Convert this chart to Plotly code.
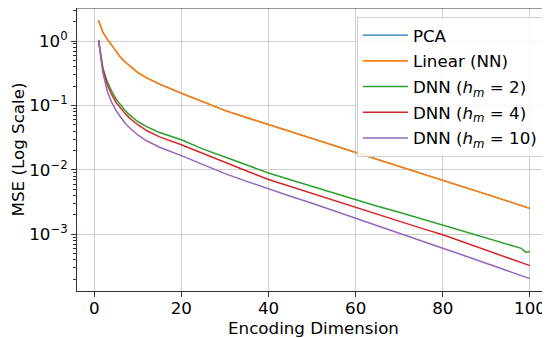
import plotly.graph_objects as go

dims = [1, 2, 3, 4, 5, 6, 7, 8, 9, 10, 12, 15, 20, 25, 30, 35, 40, 45, 50, 55,
        60, 65, 70, 75, 80, 85, 90, 95, 98, 99, 100]

linear_mse = [2.09, 1.36, 1.07, 0.851, 0.692, 0.562, 0.479, 0.417, 0.363, 0.324,
              0.269, 0.214, 0.155, 0.112, 0.0832, 0.0646, 0.0501, 0.0389, 0.0302,
              0.0237, 0.0186, 0.0145, 0.01135, 0.00891, 0.00697, 0.00537, 0.00417,
              0.00324, 0.00279, 0.00263, 0.00251]
pca_mse = list(linear_mse)  # PCA curve coincides with Linear (NN)

dnn2_mse = [1.02, 0.380, 0.234, 0.166, 0.126, 0.102, 0.0851, 0.0724, 0.0631, 0.0562,
            0.0468, 0.0380, 0.0292, 0.0209, 0.0158, 0.01175, 0.00891, 0.0070, 0.0055,
            0.00432, 0.00339, 0.00272, 0.00219, 0.00174, 0.00139, 0.0011, 0.00087,
            0.000708, 0.000603, 0.000525, 0.000537]

dnn4_mse = [1.02, 0.355, 0.209, 0.148, 0.112, 0.0912, 0.0759, 0.0646, 0.0562, 0.0501,
            0.0407, 0.0324, 0.0245, 0.0178, 0.0132, 0.00955, 0.00708, 0.0055, 0.00427,
            0.00335, 0.00263, 0.00204, 0.00158, 0.00124, 0.000977, 0.000741, 0.000562,
            0.000427, 0.000363, 0.000343, 0.000324]

dnn10_mse = [1.02, 0.316, 0.166, 0.112, 0.0832, 0.0661, 0.0537, 0.0457, 0.0398, 0.0347,
             0.0282, 0.0224, 0.0166, 0.0120, 0.00871, 0.00661, 0.00501, 0.00389, 0.00302,
             0.00232, 0.00178, 0.00136, 0.00105, 0.000794, 0.000603, 0.000462, 0.000355,
             0.000269, 0.000229, 0.000216, 0.000204]

series_names = ["PCA", "Linear (NN)",
                "DNN (<i>h</i><sub><i>m</i></sub> = 2)",
                "DNN (<i>h</i><sub><i>m</i></sub> = 4)",
                "DNN (<i>h</i><sub><i>m</i></sub> = 10)"]
series_vals = [pca_mse, linear_mse, dnn2_mse, dnn4_mse, dnn10_mse]
colors = ["#1f77b4", "#ff7f0e", "#2ca02c", "#d62728", "#9467bd"]
widths = [1.2, 1.6, 1.5, 1.5, 1.5]

x_ticks = [0, 20, 40, 60, 80, 100]
y_ticks = [1e-3, 1e-2, 1e-1, 1e0]
y_tick_text = ["10<sup>−3</sup>", "10<sup>−2</sup>", "10<sup>−1</sup>", "10<sup>0</sup>"]
minor_vals = [k * 10 ** e for e in range(-4, 1) for k in range(2, 10)]

FONT = "DejaVu Sans"
FS = 16.7

fig = go.Figure()
for i, (name, vals, c, w) in enumerate(zip(series_names, series_vals, colors, widths)):
    fig.add_trace(go.Scatter(x=dims, y=vals, mode="lines", name=name,
                             legendgroup=f"g{i}",
                             line=dict(color=c, width=w)))

fig.update_layout(
    width=542, height=330,
    margin=dict(l=69, r=0, t=0, b=47, autoexpand=False),
    paper_bgcolor="white", plot_bgcolor="white",
    font=dict(family=FONT, size=FS, color="black"),
    showlegend=True,
    legend=dict(x=0.985, y=0.969, xanchor="right", yanchor="top",
                bgcolor="rgba(255,255,255,0.8)", bordercolor="#d0d0d0",
                borderwidth=1, font=dict(size=FS), tracegroupgap=1,
                itemwidth=45),
    xaxis=dict(range=[-3.95, 104.6], tickvals=x_ticks, showgrid=True,
               gridcolor="#cfcfcf", gridwidth=1, zeroline=False, automargin=False,
               showline=True, linecolor="#333333", linewidth=1,
               ticks="outside", ticklen=5, tickcolor="#333333",
               ticklabelstandoff=-3, tickfont=dict(size=FS),
               title=dict(text="Encoding Dimension", standoff=0, font=dict(size=FS))),
    yaxis=dict(type="log", range=[-3.883, 0.513], tickvals=y_ticks, automargin=False,
               ticktext=y_tick_text, showgrid=True, gridcolor="#cfcfcf",
               gridwidth=1, zeroline=False, showline=True, linecolor="#333333",
               linewidth=1, ticks="outside", ticklen=5, tickcolor="#333333",
               tickfont=dict(size=FS),
               minor=dict(tickvals=minor_vals, ticks="outside", ticklen=3,
                          tickcolor="#333333", showgrid=False),
               title=dict(text="MSE (Log Scale)", standoff=6, font=dict(size=FS))),
)
# top spine
fig.add_shape(type="line", xref="paper", yref="paper", x0=0, x1=1, y0=1, y1=1,
              line=dict(color="#333333", width=1))

fig.write_html("out.html")
